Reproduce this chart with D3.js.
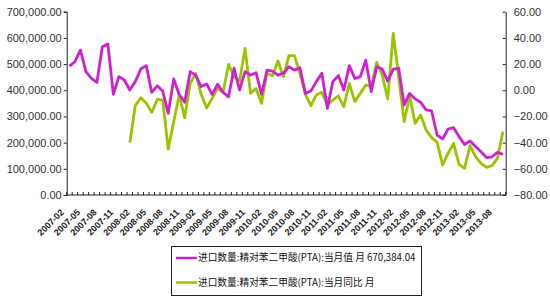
<!DOCTYPE html>
<html>
<head>
<meta charset="utf-8">
<script src="https://cdn.jsdelivr.net/npm/d3@7"></script>
<style>
  body { margin: 0; background: #fff; }
  svg { display: block; }
  .ytick text { font-family: "Liberation Sans", Arial, sans-serif; font-size: 11px; fill: #333; }
  .xlabel { font-family: "Liberation Sans", Arial, sans-serif; font-size: 9px; font-weight: bold; fill: #222; }
  .legend text { font-family: "Noto Sans CJK SC", sans-serif; font-size: 9.7px; fill: #111; }
</style>
</head>
<body>
<svg id="chart" width="550" height="300"></svg>
<script>
const months = [
  '2007-02','2007-03','2007-04','2007-05','2007-06','2007-07','2007-08','2007-09','2007-10','2007-11','2007-12',
  '2008-01','2008-02','2008-03','2008-04','2008-05','2008-06','2008-07','2008-08','2008-09','2008-10','2008-11','2008-12',
  '2009-01','2009-02','2009-03','2009-04','2009-05','2009-06','2009-07','2009-08','2009-09','2009-10','2009-11','2009-12',
  '2010-01','2010-02','2010-03','2010-04','2010-05','2010-06','2010-07','2010-08','2010-09','2010-10','2010-11','2010-12',
  '2011-01','2011-02','2011-03','2011-04','2011-05','2011-06','2011-07','2011-08','2011-09','2011-10','2011-11','2011-12',
  '2012-01','2012-02','2012-03','2012-04','2012-05','2012-06','2012-07','2012-08','2012-09','2012-10','2012-11','2012-12',
  '2013-01','2013-02','2013-03','2013-04','2013-05','2013-06','2013-07','2013-08','2013-09'
]

const tickLabels = [
  '2007-02','2007-05','2007-08','2007-11','2008-02','2008-05','2008-08','2008-11',
  '2009-02','2009-05','2009-08','2009-11','2010-02','2010-05','2010-08','2010-11',
  '2011-02','2011-05','2011-08','2011-11','2012-02','2012-05','2012-08','2012-11',
  '2013-02','2013-05','2013-08'
]

// 当月值 (吨)
const monthlyValue = [
  492000, 509000, 553000, 471000, 445000, 430000, 566000, 577000, 384000, 452000, 439000,
  401000, 433000, 481000, 494000, 392000, 417000, 397000, 312000, 443000, 384000, 354000, 471000,
  458000, 414000, 424000, 384000, 423000, 392000, 375000, 484000, 401000, 471000, 458000, 467000,
  384000, 477000, 473000, 458000, 465000, 490000, 477000, 486000, 388000, 397000, 433000, 465000,
  331000, 433000, 456000, 401000, 494000, 445000, 452000, 515000, 395000, 490000, 481000, 435000,
  481000, 484000, 344000, 388000, 367000, 354000, 325000, 321000, 229000, 214000, 252000, 257000,
  223000, 193000, 206000, 185000, 165000, 143000, 146000, 163000, 155000
]

// 当月同比 (%)
const yoyValue = [
  null, null, null, null, null, null, null, null, null, null, null,
  -40, -11.8, -5.7, -10, -16.9, -7, -7.5, -44.9, -24, -3.6, -21, 5,
  12.9, -3.1, -13.5, -6.2, 1.4, -1.6, 19.8, 10.3, 7, 32, -2.4, 1.4,
  -10, 12.9, 11.1, 22.3, 10.3, 26.4, 26.4, 12.9, -3.1, -11.8, -3.6, -1.6,
  -10.8, -7.5, -4.2, -12.6, 5.3, -8.7, -2.4, 4, 2.7, 21.3, 11.6, -6.7,
  43.4, 10.3, -24, -4.2, -25.3, -18.9, -30.4, -36.2, -39.8, -57.1, -48.2, -40.6,
  -56.6, -59.6, -42.3, -50.7, -55.8, -58.9, -57.6, -52, -31.6
]

const leftTicks = [0, 100000, 200000, 300000, 400000, 500000, 600000, 700000]
const rightTicks = [-80, -60, -40, -20, 0, 20, 40, 60]

const legendLabels = [
  '进口数量:精对苯二甲酸(PTA):当月值 月 670,384.04',
  '进口数量:精对苯二甲酸(PTA):当月同比 月'
]

const COLORS = ['#d020d0', '#99c400']
const PLOT = { left: 66.7, right: 505.7, top: 11.7, bottom: 195 }

const svg = d3.select('#chart')

const x = d3.scalePoint()
  .domain(months)
  .range([PLOT.left, PLOT.right])
  .padding(0.5)

const yLeft = d3.scaleLinear().domain([0, 700000]).range([PLOT.bottom, PLOT.top])
const yRight = d3.scaleLinear().domain([-80, 60]).range([PLOT.bottom, PLOT.top])

const fmt = d3.format(',.2f')

// left axis
const leftAxis = svg.append('g')
  .attr('class', 'ytick')
  .attr('transform', `translate(${PLOT.left},0)`)
  .call(d3.axisLeft(yLeft).tickValues(leftTicks).tickFormat(fmt).tickSize(3).tickPadding(2))
leftAxis.select('.domain').attr('stroke', '#222')
leftAxis.selectAll('line').attr('stroke', '#222')

// right axis
const rightAxis = svg.append('g')
  .attr('class', 'ytick')
  .attr('transform', `translate(${PLOT.right},0)`)
  .call(d3.axisRight(yRight).tickValues(rightTicks).tickFormat(fmt).tickSize(0).tickPadding(8))
rightAxis.select('.domain').attr('stroke', '#222')
rightAxis.selectAll('.tick').append('line')
  .attr('x1', -3).attr('x2', 0).attr('stroke', '#222')

// bottom axis: tick marks at category boundaries
const step = x.step()
svg.append('line')
  .attr('x1', PLOT.left).attr('x2', PLOT.right)
  .attr('y1', PLOT.bottom).attr('y2', PLOT.bottom)
  .attr('stroke', '#222')
svg.append('g').selectAll('line')
  .data(d3.range(months.length + 1))
  .join('line')
  .attr('x1', i => PLOT.left + i * step)
  .attr('x2', i => PLOT.left + i * step)
  .attr('y1', PLOT.bottom - 3)
  .attr('y2', PLOT.bottom)
  .attr('stroke', '#222')

svg.append('g').selectAll('text')
  .data(tickLabels)
  .join('text')
  .attr('class', 'xlabel')
  .attr('text-anchor', 'end')
  .attr('transform', d => `translate(${x(d) - 5},${PLOT.bottom + 18}) rotate(-45)`)
  .text(d => d)

// lines
const lineLeft = d3.line()
  .defined(d => d != null)
  .x((d, i) => x(months[i]))
  .y(d => yLeft(d))

const lineRight = d3.line()
  .defined(d => d != null)
  .x((d, i) => x(months[i]))
  .y(d => yRight(d))

svg.append('path')
  .datum(yoyValue)
  .attr('fill', 'none')
  .attr('stroke', COLORS[1])
  .attr('stroke-width', 2.8)
  .attr('stroke-linejoin', 'round')
  .attr('d', lineRight)

svg.append('path')
  .datum(monthlyValue)
  .attr('fill', 'none')
  .attr('stroke', COLORS[0])
  .attr('stroke-width', 2.8)
  .attr('stroke-linejoin', 'round')
  .attr('d', lineLeft)

// legend
const legend = svg.append('g').attr('class', 'legend')
legend.append('rect')
  .attr('x', 171.5).attr('y', 246.5)
  .attr('width', 250).attr('height', 49)
  .attr('fill', '#fff').attr('stroke', '#222')

const rows = legend.selectAll('g.row')
  .data(legendLabels)
  .join('g')
  .attr('class', 'row')
  .attr('transform', (d, i) => `translate(0,${258 + i * 24.5})`)

rows.append('line')
  .attr('x1', 176).attr('x2', 197)
  .attr('stroke', (d, i) => COLORS[i])
  .attr('stroke-width', 2.5)

rows.append('text')
  .attr('x', 198)
  .attr('dy', '0.35em')
  .text(d => d)
</script>
</body>
</html>
